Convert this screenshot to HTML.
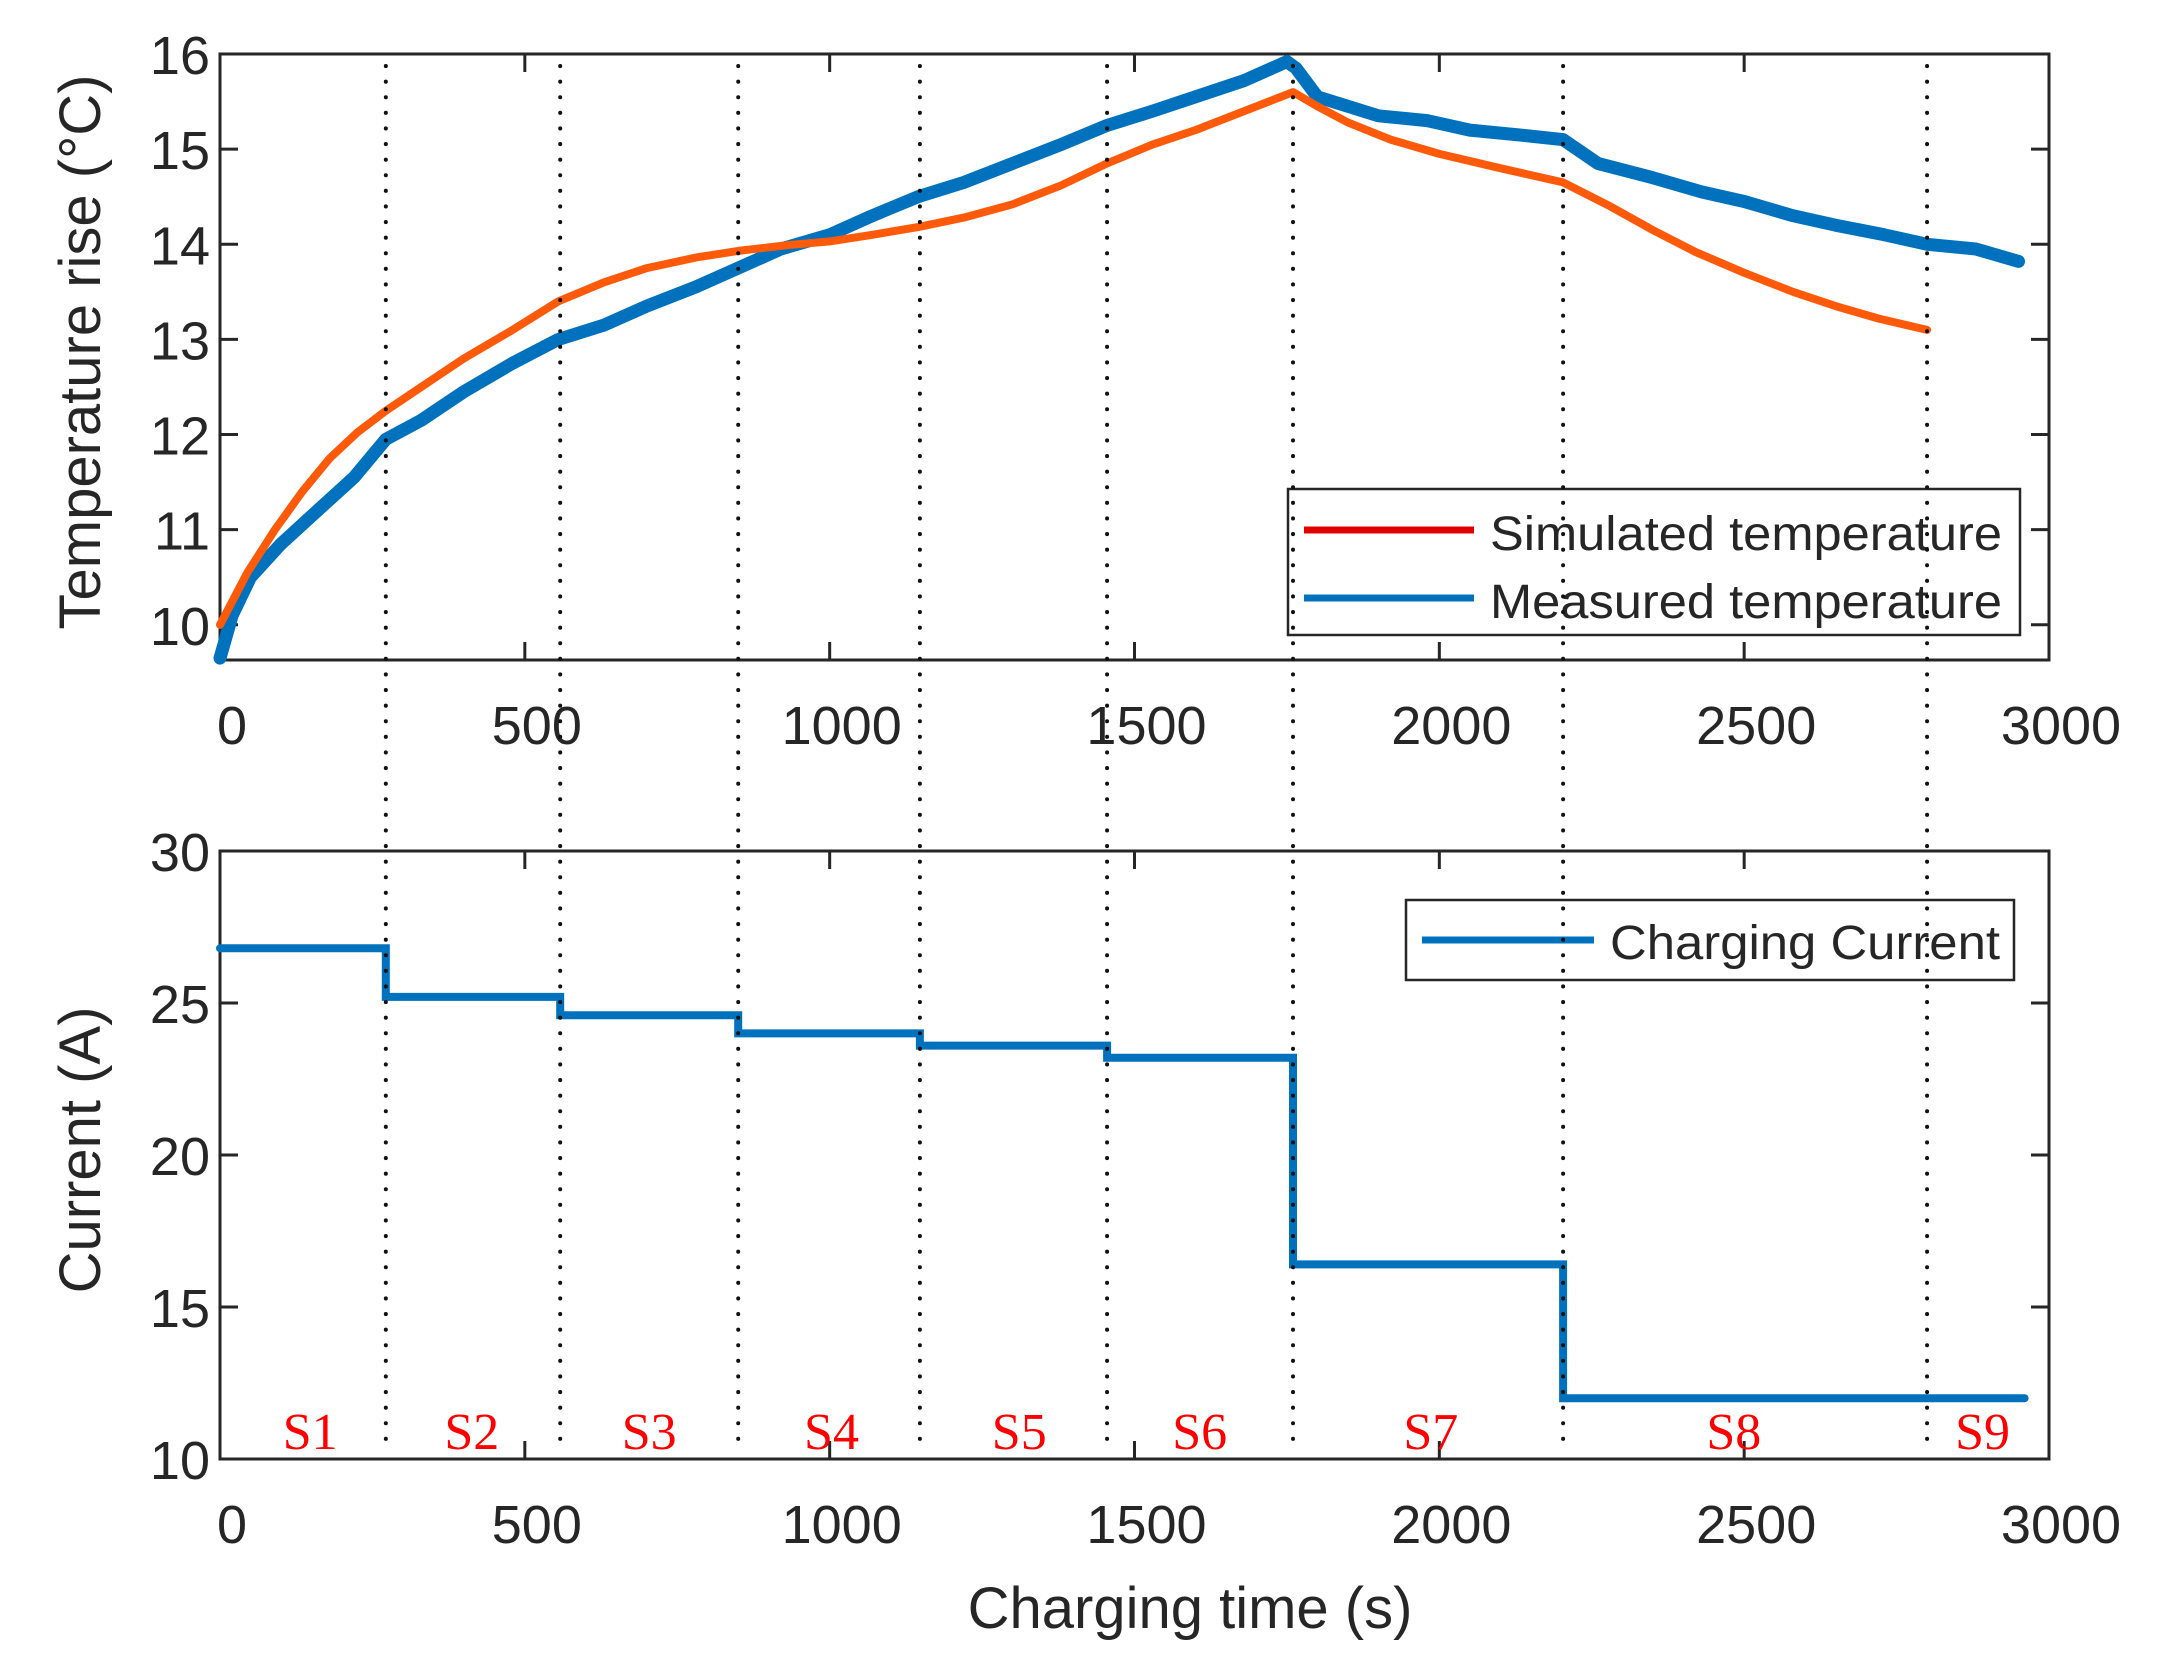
<!DOCTYPE html>
<html><head><meta charset="utf-8"><style>
html,body{margin:0;padding:0;background:#fff}
svg{display:block}
text{font-family:"Liberation Sans",sans-serif;fill:#262626}
</style></head><body>
<svg id="chart" width="2179" height="1677" viewBox="0 0 2179 1677" xmlns="http://www.w3.org/2000/svg">
<g id="g1"></g>
<g id="g2"></g>
<g id="gd"></g>
</svg>
<script>
const xTicks=[0,500,1000,1500,2000,2500,3000];
const tTicks=[10,11,12,13,14,15,16];
const cTicks=[10,15,20,25,30];
const simTime=[0,45,90,135,180,225,272,330,400,480,555,630,700,780,850,930,1000,1070,1145,1220,1300,1380,1455,1530,1600,1680,1760,1800,1850,1920,2000,2100,2203,2280,2350,2420,2500,2580,2650,2720,2800];
const simTemp=[10.0,10.55,11.0,11.4,11.75,12.02,12.25,12.5,12.8,13.1,13.4,13.6,13.75,13.86,13.93,13.99,14.03,14.1,14.18,14.28,14.42,14.62,14.85,15.05,15.2,15.4,15.6,15.45,15.28,15.1,14.95,14.8,14.65,14.4,14.15,13.92,13.7,13.5,13.35,13.22,13.1];
const measTime=[0,20,50,100,160,220,272,330,400,480,555,630,700,780,850,920,1000,1070,1145,1220,1300,1380,1455,1530,1600,1680,1750,1765,1800,1850,1900,1980,2050,2130,2203,2260,2350,2430,2500,2580,2650,2730,2800,2880,2950];
const measTemp=[9.65,10.1,10.5,10.85,11.2,11.55,11.95,12.15,12.45,12.75,13.0,13.15,13.35,13.55,13.75,13.95,14.1,14.3,14.5,14.65,14.85,15.05,15.25,15.4,15.55,15.72,15.92,15.85,15.55,15.45,15.35,15.3,15.2,15.15,15.1,14.85,14.7,14.55,14.45,14.3,14.2,14.1,14.0,13.95,13.82];
const stageEdges=[0,272,558,850,1148,1455,1760,2203,2800,2960];
const stageCurrent=[26.8,25.2,24.6,24.0,23.6,23.2,16.4,12.0,12.0];
const stageLabels=["S1","S2","S3","S4","S5","S6","S7","S8","S9"];
const stageLabelX=[148,413,704,1003,1311,1607,1986,2483,2891];

const NS="http://www.w3.org/2000/svg";
const L=220,R=2049;
const P1={top:54,bottom:660,min:9.63,max:16};
const P2={top:851,bottom:1459,min:10,max:30};
function sx(v){return L+(v-0)/(3000-0)*(R-L);}
function sy(p,v){return p.bottom-(v-p.min)/(p.max-p.min)*(p.bottom-p.top);}
function mk(parent,tag,attrs,txt){const e=document.createElementNS(NS,tag);for(const k in attrs)e.setAttribute(k,attrs[k]);if(txt!==undefined)e.textContent=txt;parent.appendChild(e);return e;}

function axes(g,p,yt,name){
  const box=mk(g,'rect',{x:L,y:p.top,width:R-L,height:p.bottom-p.top,fill:'none',stroke:'#262626','stroke-width':3});
  
  
  xTicks.forEach(v=>{
    const x=sx(v);
    mk(g,'line',{x1:x,y1:p.bottom,x2:x,y2:p.bottom-18,stroke:'#262626','stroke-width':3});
    mk(g,'line',{x1:x,y1:p.top,x2:x,y2:p.top+18,stroke:'#262626','stroke-width':3});
    const t=mk(g,'text',{x:x+12,y:p.bottom+84,'font-size':54,'text-anchor':'middle'},String(v));
    
    
  });
  yt.forEach(v=>{
    const y=sy(p,v);
    mk(g,'line',{x1:L,y1:y,x2:L+18,y2:y,stroke:'#262626','stroke-width':3});
    mk(g,'line',{x1:R,y1:y,x2:R-18,y2:y,stroke:'#262626','stroke-width':3});
    const t=mk(g,'text',{x:L-10,y:y+20,'font-size':54,'text-anchor':'end'},String(v));
    
    
  });
}
function pathOf(p,xs,ys){return xs.map((v,i)=>(i?'L':'M')+sx(v).toFixed(1)+','+sy(p,ys[i]).toFixed(1)).join(' ');}

const g1=document.getElementById('g1');
axes(g1,P1,tTicks,'temperature');
const meas=mk(g1,'path',{d:pathOf(P1,measTime,measTemp),fill:'none',stroke:'#0072BD','stroke-width':13,'stroke-linejoin':'round','stroke-linecap':'round'});


const sim=mk(g1,'path',{d:pathOf(P1,simTime,simTemp),fill:'none',stroke:'#FF5A0A','stroke-width':8,'stroke-linejoin':'round','stroke-linecap':'round'});


const yl1=mk(g1,'text',{x:0,y:0,'font-size':58,'text-anchor':'middle',transform:'translate(100,352) rotate(-90)'},'Temperature rise (°C)');


const lg1=mk(g1,'g',{});


mk(lg1,'rect',{x:1288,y:489,width:732,height:146,fill:'#fff',stroke:'#262626','stroke-width':2.5});
mk(lg1,'line',{x1:1304,y1:530,x2:1474,y2:530,stroke:'#E00000','stroke-width':7});
mk(lg1,'text',{x:1490,y:550,'font-size':48,textLength:512,lengthAdjust:'spacingAndGlyphs'},'Simulated temperature');
mk(lg1,'line',{x1:1304,y1:598,x2:1474,y2:598,stroke:'#0072BD','stroke-width':7});
mk(lg1,'text',{x:1490,y:618,'font-size':48,textLength:512,lengthAdjust:'spacingAndGlyphs'},'Measured temperature');

const g2=document.getElementById('g2');
axes(g2,P2,cTicks,'current');
let d='';
stageCurrent.forEach((c,i)=>{
  const x0=sx(stageEdges[i]),x1=sx(stageEdges[i+1]),y=sy(P2,c);
  d+=(i?'L':'M')+x0.toFixed(1)+','+y.toFixed(1)+' L'+x1.toFixed(1)+','+y.toFixed(1)+' ';
});
const cur=mk(g2,'path',{d:d,fill:'none',stroke:'#0072BD','stroke-width':8,'stroke-linecap':'round'});


stageLabels.forEach((s,i)=>{
  const t=mk(g2,'text',{x:sx(stageLabelX[i]),y:1449,'font-size':52,'text-anchor':'middle',style:'font-family:"Liberation Serif",serif;fill:#FF0000'},s);
  
  
});
const yl2=mk(g2,'text',{x:0,y:0,'font-size':58,'text-anchor':'middle',transform:'translate(100,1150) rotate(-90)'},'Current (A)');


const xl=mk(g2,'text',{x:1190,y:1628,'font-size':58,'text-anchor':'middle'},'Charging time (s)');


const lg2=mk(g2,'g',{});


mk(lg2,'rect',{x:1406,y:900,width:608,height:80,fill:'#fff',stroke:'#262626','stroke-width':2.5});
mk(lg2,'line',{x1:1422,y1:940,x2:1594,y2:940,stroke:'#0072BD','stroke-width':7});
mk(lg2,'text',{x:1610,y:959,'font-size':48,textLength:390,lengthAdjust:'spacingAndGlyphs'},'Charging Current');

const gd=document.getElementById('gd');
stageEdges.slice(1,9).forEach(v=>{
  const l=mk(gd,'line',{x1:sx(v),y1:P1.top+12,x2:sx(v),y2:P2.bottom-8,stroke:'#111','stroke-width':4,'stroke-dasharray':'0.1 15.5','stroke-linecap':'round'});
  
  
});
</script>
</body></html>
